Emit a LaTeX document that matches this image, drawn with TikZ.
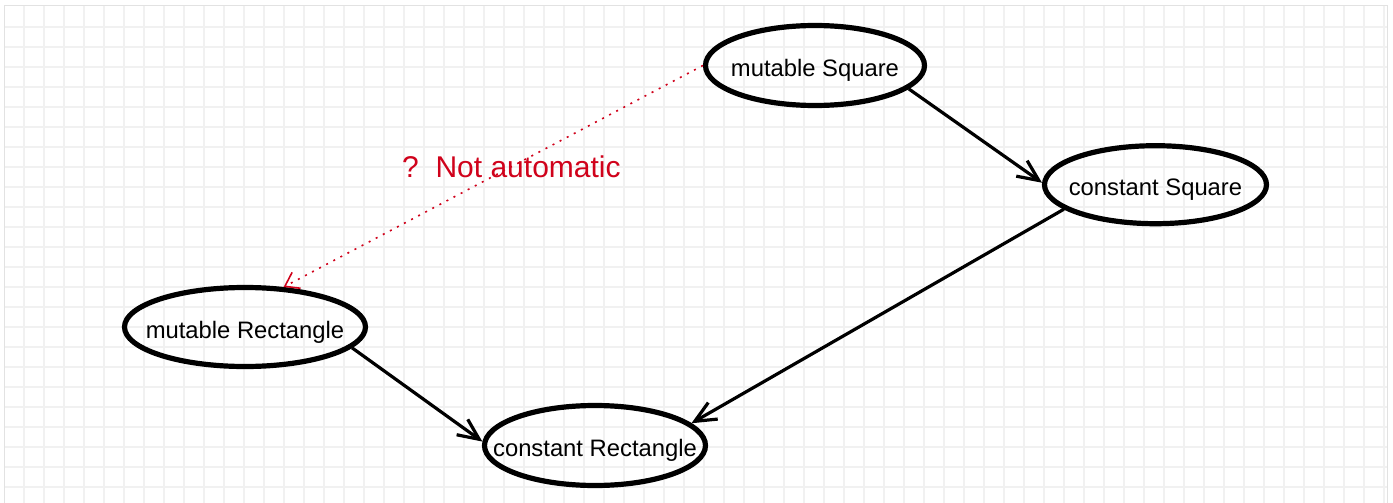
\documentclass[tikz,border=0pt]{standalone}
\usepackage{fontspec}
\setmainfont{Liberation Sans}
\usetikzlibrary{shapes.geometric,arrows.meta}
\definecolor{gridc}{RGB}{241,241,241}
\definecolor{framec}{RGB}{226,226,226}
\definecolor{redc}{RGB}{208,2,27}
\newcommand{\ztext}[1]{\makebox[0pt]{#1}}
\tikzset{
  state/.style={ellipse, draw=black, line width=5.2pt, inner sep=0pt,
    text height=22pt, text depth=0pt,
    font=\fontsize{23.8}{28}\selectfont},
  edge/.style={line width=3.2pt, -{Straight Barb[length=21pt,width=19pt]}},
  note/.style={draw=redc, line width=1.6pt, dash pattern=on 2pt off 6pt,
    -{Straight Barb[length=13pt,width=18pt,line width=1.6pt]}},
  notelabel/.style={text=redc, inner sep=0pt, anchor=base west,
    font=\fontsize{30}{34}\selectfont},
  gridline/.style={draw=gridc, line width=1.6pt},
  frameline/.style={draw=framec, line width=1pt}
}
\begin{document}
\begin{tikzpicture}[x=1pt,y=-1pt]
\useasboundingbox (0,0) rectangle (1393,503);
\fill[white] (0,0) rectangle (1393,503);
% grid
\foreach \gx in {24,44,...,1384} \draw[gridline] (\gx,6) -- (\gx,503);
\foreach \gy in {27,47,...,503} \draw[gridline] (4,\gy) -- (1387,\gy);
\draw[frameline] (4,503) -- (4,6) -- (1387,6) -- (1387,503);
% nodes
\node[state, minimum width=219pt, minimum height=80pt] (ms) at (815,65.5) {\ztext{mutable Square}};
\node[state, minimum width=222pt, minimum height=78pt] (cs) at (1155.5,184.7) {\ztext{constant Square}};
\node[state, minimum width=241pt, minimum height=79pt] (mr) at (245,327) {\ztext{mutable Rectangle}};
\node[state, minimum width=221pt, minimum height=80pt] (cr) at (595,445.5) {\ztext{constant Rectangle}};
% edges
\draw[edge] (ms.-14) -- (cs.179.3);
\draw[edge] (cs.195) -- (cr.13.4);
\draw[edge] (mr.-11) -- (cr.178.9);
\draw[note] (ms.180) -- (mr.46.6);
\node[notelabel] (lbl) at (402,177) {?~~Not automatic};
\end{tikzpicture}
\end{document}
